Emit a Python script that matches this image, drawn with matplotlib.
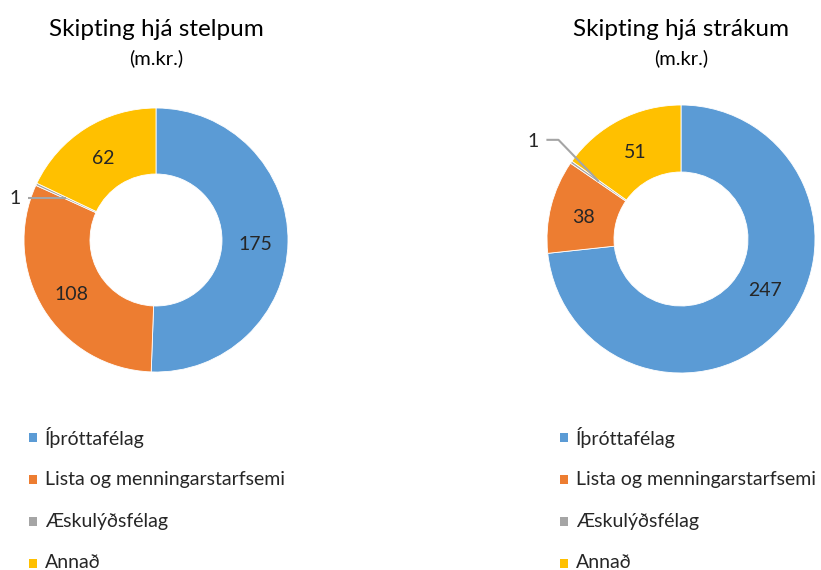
import matplotlib
matplotlib.use("Agg")
import matplotlib.pyplot as plt
from matplotlib.patches import Rectangle
import numpy as np

plt.rcParams['font.family'] = ['Lato', 'DejaVu Sans']

categories = ["Íþróttafélag", "Lista og menningarstarfsemi", "Æskulýðsfélag", "Annað"]
girls_values = [175, 108, 1, 62]
boys_values = [247, 38, 1, 51]
titles = ["Skipting hjá stelpum", "Skipting hjá strákum"]
subtitle = "(m.kr.)"
colors = ["#5B9BD5", "#ED7D31", "#A5A5A5", "#FFC000"]

W, H = 821, 570
fig = plt.figure(figsize=(W / 100, H / 100), dpi=100)


def donut(values, cx, cy, r, title, small_offsets, legend_x, nudges):
    ax = fig.add_axes([(cx - r) / W, (H - cy - r) / H, 2 * r / W, 2 * r / H])
    wedges, _ = ax.pie(values, colors=colors, startangle=90, counterclock=False,
                       radius=1.0, wedgeprops=dict(width=0.5, edgecolor='white', linewidth=0.6))
    ax.set_xlim(-1, 1)
    ax.set_ylim(-1, 1)
    ax.set_aspect('auto')
    ax.axis('off')
    mid_r = 0.75
    for i, (w, v) in enumerate(zip(wedges, values)):
        ang = np.deg2rad((w.theta1 + w.theta2) / 2)
        x, y = mid_r * np.cos(ang), mid_r * np.sin(ang)
        if v / sum(values) < 0.02:
            pts = [(x, y)] + [(x + dx, y + dy) for dx, dy in small_offsets[:-1]]
            xs, ys = zip(*pts)
            ax.plot(xs, ys, color="#A5A5A5", lw=1.5, solid_capstyle='butt', clip_on=False)
            tdx, tdy = small_offsets[-1]
            ax.text(x + tdx, y + tdy, f"{v}", ha='center', va='center', fontsize=14,
                    color="#262626", clip_on=False)
        else:
            ndx, ndy = nudges.get(i, (0, 0))
            ax.text(x + ndx, y + ndy - 0.02, f"{v}", ha='center', va='center', fontsize=14,
                    color="#262626")
    fig.text(cx / W, 1 - 30 / H, title, ha='center', va='center', fontsize=17.5, color='black')
    fig.text(cx / W, 1 - 58 / H, subtitle, ha='center', va='center', fontsize=14.5, color='black')
    # legend
    for i, (cat, col) in enumerate(zip(categories, colors)):
        yc = 437 + i * 42
        fig.patches.append(Rectangle((legend_x / W, 1 - (yc + 4.5) / H), 8 / W, 9 / H,
                                     transform=fig.transFigure, facecolor=col, edgecolor='none'))
        fig.text((legend_x + 16) / W, 1 - yc / H, cat, ha='left', va='center',
                 fontsize=14, color="#262626")


donut(girls_values, 156, 240, 132, titles[0],
      [(-0.29, 0.0), (-0.39, 0.0)], 29, {})
donut(boys_values, 681, 239, 134, titles[1],
      [(-0.30, 0.31), (-0.39, 0.31), (-0.49, 0.30)], 560, {0: (0.07, 0.14)})

fig.savefig("out.png", dpi=100, facecolor='white')
